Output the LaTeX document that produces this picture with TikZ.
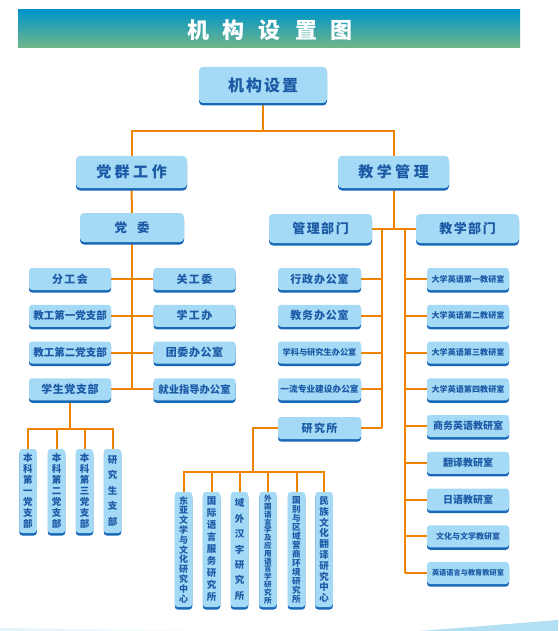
\documentclass[tikz,border=0pt]{standalone}
\usepackage{fontspec}
\setmainfont{Noto Sans CJK SC}
\usetikzlibrary{shadows,backgrounds}
\definecolor{boxfill}{HTML}{A4DAF6}
\definecolor{boxdark}{HTML}{1769B8}
\definecolor{boxtext}{HTML}{1D5AA6}
\definecolor{orng}{HTML}{EE8300}
\definecolor{bartop}{HTML}{0095C9}
\definecolor{barbot}{HTML}{72B68A}
\definecolor{swoosh}{HTML}{B3DFF2}
\newcommand\myfs[1]{\fontsize{#1}{#1}\selectfont}
\newcommand\vfs[2]{\fontsize{#1}{#2}\selectfont}
\newcommand\hg[1]{\hspace{#1pt}}
\begin{document}
\begin{tikzpicture}[x=1pt,y=1pt,
  box/.style={rounded corners=4pt, fill=boxfill, text=boxtext, inner sep=0pt,
    drop shadow={shadow xshift=0pt, shadow yshift=-2.5pt, fill=boxdark, opacity=1},
    font=\bfseries},
  sbox/.style={box, minimum width=82, minimum height=22, rounded corners=3pt},
  vbox/.style={box, minimum width=17.5, rounded corners=3pt, align=center},
  conn/.style={orng, line width=2pt}]
\useasboundingbox (0,0) rectangle (558,-631);
% title bar
\shade[top color=bartop, bottom color=barbot] (18,-10) rectangle (520,-48);
\node[text=white, font=\myfs{22}\bfseries] (title) at (270,-30.5)
  {机\hg{14}构\hg{14}设\hg{14}置\hg{14}图};
% bottom swoosh
\shade[left color=swoosh!40, right color=white] (0,-628) -- (230,-631) -- (0,-631) -- cycle;
\fill[swoosh] (420,-631) -- (558,-620) -- (558,-631) -- cycle;

% top levels
\node[box, minimum width=128, minimum height=36, font=\myfs{16}\bfseries] (top) at (263,-85) {机\hg{2}构\hg{2}设\hg{2}置};
\node[box, minimum width=111, minimum height=32, font=\myfs{15}\bfseries] (dq) at (131.5,-172) {党\hg{3.5}群\hg{3.5}工\hg{3.5}作};
\node[box, minimum width=111, minimum height=32, font=\myfs{15}\bfseries] (jx) at (393.5,-172) {教\hg{3.5}学\hg{3.5}管\hg{3.5}理};
\node[box, minimum width=104, minimum height=29, font=\myfs{12.5}\bfseries] (dw) at (132,-227.5) {党\hg{10}委};
\node[box, minimum width=103, minimum height=29, font=\myfs{13}\bfseries] (gl) at (320.5,-228.5) {管\hg{1.5}理\hg{1.5}部\hg{1.5}门};
\node[box, minimum width=103, minimum height=29, font=\myfs{13}\bfseries] (jb) at (467.5,-228.5) {教\hg{1.5}学\hg{1.5}部\hg{1.5}门};

% left group
\node[sbox, font=\myfs{11}\bfseries] (l1) at (70,-279) {分\hg{1.5}工\hg{1.5}会};
\node[sbox, font=\myfs{10.5}\bfseries] (l2) at (70,-315.75) {教工第一党支部};
\node[sbox, font=\myfs{10.5}\bfseries] (l3) at (70,-352.5) {教工第二党支部};
\node[sbox, font=\myfs{11}\bfseries] (l4) at (70,-389.25) {学\hg{0.6}生\hg{0.6}党\hg{0.6}支\hg{0.6}部};
\node[sbox, font=\myfs{11}\bfseries] (r1) at (194.5,-279) {关\hg{1.5}工\hg{1.5}委};
\node[sbox, font=\myfs{11}\bfseries] (r2) at (194.5,-315.75) {学\hg{1.5}工\hg{1.5}办};
\node[sbox, font=\myfs{11}\bfseries] (r3) at (194.5,-352.5) {团\hg{0.6}委\hg{0.6}办\hg{0.6}公\hg{0.6}室};
\node[sbox, font=\myfs{10.3}\bfseries] (r4) at (194.5,-389.25) {就业指导办公室};

% party branches (vertical)
\node[vbox, minimum height=84, font=\vfs{9.5}{11}\bfseries] (v1) at (28,-491) {本\\科\\第\\一\\党\\支\\部};
\node[vbox, minimum height=84, font=\vfs{9.5}{11}\bfseries] (v2) at (56.5,-491) {本\\科\\第\\二\\党\\支\\部};
\node[vbox, minimum height=84, font=\vfs{9.5}{11}\bfseries] (v3) at (84.5,-491) {本\\科\\第\\三\\党\\支\\部};
\node[vbox, minimum height=84, font=\vfs{9.5}{15.5}\bfseries] (v4) at (112.5,-491) {研\\究\\生\\支\\部};

% management
\node[sbox, minimum width=83, font=\myfs{11}\bfseries] (m1) at (319.5,-279) {行\hg{0.8}政\hg{0.8}办\hg{0.8}公\hg{0.8}室};
\node[sbox, minimum width=83, font=\myfs{11}\bfseries] (m2) at (319.5,-315.75) {教\hg{0.8}务\hg{0.8}办\hg{0.8}公\hg{0.8}室};
\node[sbox, minimum width=83, font=\myfs{8.2}\bfseries] (m3) at (319.5,-352.5) {学科与研究生办公室};
\node[sbox, minimum width=83, font=\myfs{8.7}\bfseries] (m4) at (319.5,-389.25) {一流专业建设办公室};
\node[sbox, minimum width=83, font=\myfs{11}\bfseries] (ys) at (319.5,-428) {研\hg{1.5}究\hg{1.5}所};

% teaching
\node[sbox, font=\myfs{8.1}\bfseries] (t1) at (468,-279) {大学英语第一教研室};
\node[sbox, font=\myfs{8.1}\bfseries] (t2) at (468,-315.75) {大学英语第二教研室};
\node[sbox, font=\myfs{8.1}\bfseries] (t3) at (468,-352.5) {大学英语第三教研室};
\node[sbox, font=\myfs{8.1}\bfseries] (t4) at (468,-389.25) {大学英语第四教研室};
\node[sbox, font=\myfs{10}\bfseries] (t5) at (468,-426) {商务英语教研室};
\node[sbox, font=\myfs{10}\bfseries] (t6) at (468,-462.75) {翻译教研室};
\node[sbox, font=\myfs{10}\bfseries] (t7) at (468,-499.5) {日语教研室};
\node[sbox, font=\myfs{8}\bfseries] (t8) at (468,-536.25) {文化与文学教研室};
\node[sbox, font=\myfs{7.2}\bfseries] (t9) at (468,-573) {英语语言与教育教研室};

% research institutes (vertical)
\node[vbox, minimum height=115, font=\vfs{9}{9.8}\bfseries] (b1) at (183.5,-549.5) {东\\亚\\文\\学\\与\\文\\化\\研\\究\\中\\心};
\node[vbox, minimum height=115, font=\vfs{9.5}{12}\bfseries] (b2) at (211.5,-549.5) {国\\际\\语\\言\\服\\务\\研\\究\\所};
\node[vbox, minimum height=115, font=\vfs{9.5}{15.4}\bfseries] (b3) at (239.5,-549.5) {域\\外\\汉\\字\\研\\究\\所};
\node[vbox, minimum height=115, font=\vfs{7.6}{7.8}\bfseries] (b4) at (268,-549.5) {外\\国\\语\\言\\学\\及\\应\\用\\语\\言\\学\\研\\究\\所};
\node[vbox, minimum height=115, font=\vfs{8.6}{9}\bfseries] (b5) at (296.5,-549.5) {国\\别\\与\\区\\域\\营\\商\\环\\境\\研\\究\\所};
\node[vbox, minimum height=115, font=\vfs{9.5}{10.8}\bfseries] (b6) at (324,-549.5) {民\\族\\文\\化\\翻\\译\\研\\究\\中\\心};

% connectors
\begin{scope}[on background layer]
\coordinate (hb) at (263,-131);
\draw[conn] (top.south) -- (hb);
\draw[conn] (dq.north) -- (dq.north |- hb) -- (jx.north |- hb) -- (jx.north);
\draw[conn] (dq) -- (dw);
\draw[conn] (dw.south) -- (dw.south |- l4.east);
\draw[conn] (l1.east) -- (r1.west);
\draw[conn] (l2.east) -- (r2.west);
\draw[conn] (l3.east) -- (r3.west);
\draw[conn] (l4.east) -- (r4.west);
\coordinate (sb) at (70,-429);
\draw[conn] (l4.south) -- (sb);
\draw[conn] (v1.north) -- (v1.north |- sb) -- (v4.north |- sb) -- (v4.north);
\draw[conn] (v2.north) -- (v2.north |- sb);
\draw[conn] (v3.north) -- (v3.north |- sb);
\draw[conn] (jx.south) -- (jx.south |- gl.east);
\draw[conn] (gl.east) -- (jb.west);
\coordinate (mt) at (382,-228.5);
\coordinate (tt) at (405,-228.5);
\draw[conn] (mt) -- (mt |- ys.east);
\draw[conn] (tt) -- (tt |- t9.west);
\foreach \n in {m1,m2,m3,m4,ys} \draw[conn] (\n.east) -- (\n.east -| mt);
\foreach \n in {t1,t2,t3,t4,t5,t6,t7,t8,t9} \draw[conn] (\n.west) -- (\n.west -| tt);
\coordinate (rb) at (253,-472);
\draw[conn] (ys.west) -| (rb);
\draw[conn] (b1.north) -- (b1.north |- rb) -- (b6.north |- rb) -- (b6.north);
\foreach \n in {b2,b3,b4,b5} \draw[conn] (\n.north) -- (\n.north |- rb);
\end{scope}
\end{tikzpicture}
\end{document}
